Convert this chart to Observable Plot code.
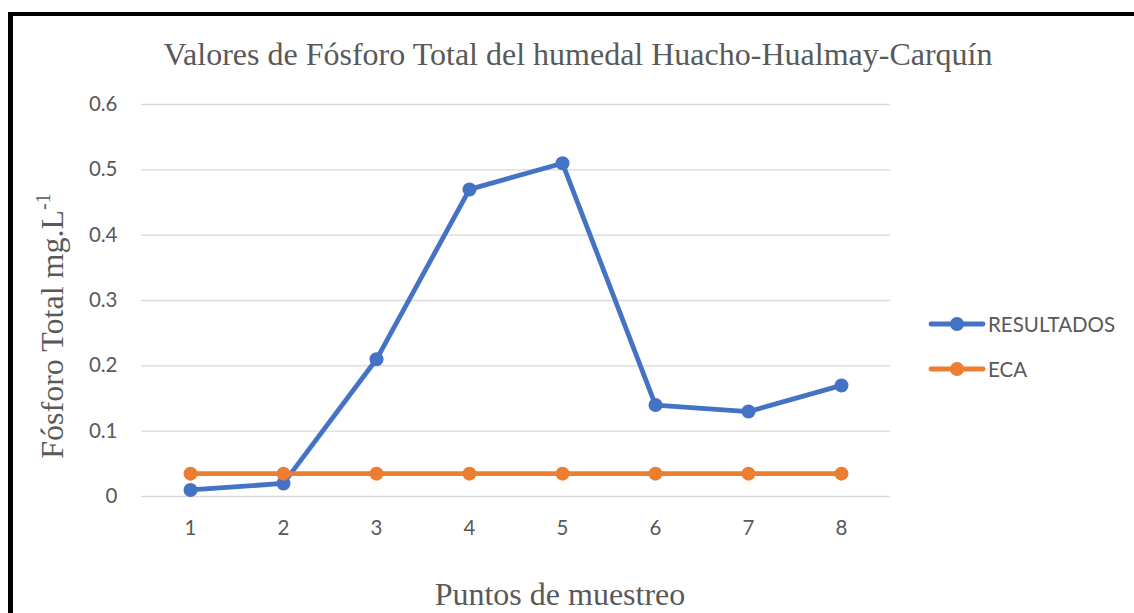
<!DOCTYPE html>
<html>
<head>
<meta charset="utf-8">
<script src="https://cdn.jsdelivr.net/npm/d3@7"></script>
<script src="https://cdn.jsdelivr.net/npm/@observablehq/plot@0.6"></script>
<style>
  html, body { margin: 0; padding: 0; background: #fff; overflow: hidden; }
  #wrap { position: relative; width: 1134px; height: 613px; overflow: hidden; }
  #frame { position: absolute; left: 8px; top: 12px; width: 1300px; height: 800px;
           border-left: 5px solid #000; border-top: 4px solid #000; box-sizing: border-box; }
  .serif { position: absolute; font-family: "Liberation Serif", "Times New Roman", serif; color: #595959; white-space: nowrap; line-height: 1; }
  #title { left: 0; width: 1156px; top: 38px; text-align: center; font-size: 32px; }
  #xlabel { left: 0; width: 1120px; top: 578px; text-align: center; font-size: 32px; }
  #ylabel { left: 52px; top: 326px; font-size: 32px; transform: translate(-50%, -50%) rotate(-90deg); }
  #ylabel sup { font-size: 20px; vertical-align: 13px; line-height: 0; }
  #legend { position: absolute; left: 928px; top: 310px; font-family: Lato, "Open Sans", sans-serif; font-size: 20.5px; color: #595959; }
  .item { display: flex; align-items: center; height: 28px; margin-bottom: 17px; }
  .item svg { margin-right: 2px; }
  #plot { position: absolute; left: 0; top: 0; }
</style>
</head>
<body>
<div id="wrap">
  <div id="plot"></div>
  <div id="frame"></div>
  <div id="title" class="serif">Valores de Fósforo Total del humedal Huacho-Hualmay-Carquín</div>
  <div id="ylabel" class="serif">Fósforo Total mg.L<sup>-1</sup></div>
  <div id="xlabel" class="serif">Puntos de muestreo</div>
  <div id="legend"></div>
</div>
<script>
const puntos = [1, 2, 3, 4, 5, 6, 7, 8];
const resultados = [0.01, 0.02, 0.21, 0.47, 0.51, 0.14, 0.13, 0.17];
const eca = [0.035, 0.035, 0.035, 0.035, 0.035, 0.035, 0.035, 0.035];
const yTicks = [0, 0.1, 0.2, 0.3, 0.4, 0.5, 0.6];
const seriesNames = ["RESULTADOS", "ECA"];
const seriesColors = ["#4472C4", "#ED7D31"];

const data = [];
puntos.forEach((p, i) => {
  data.push({punto: p, valor: resultados[i], serie: seriesNames[0]});
});
puntos.forEach((p, i) => {
  data.push({punto: p, valor: eca[i], serie: seriesNames[1]});
});

const chart = Plot.plot({
  width: 1134,
  height: 613,
  marginLeft: 141,
  marginRight: 244,
  marginTop: 104,
  marginBottom: 117,
  style: { fontFamily: "Lato, 'Open Sans', sans-serif", fontSize: "20.5px", color: "#595959", background: "transparent" },
  x: { type: "point", domain: puntos, padding: 0.5, label: null },
  y: { domain: [0, 0.6], label: null },
  color: { domain: seriesNames, range: seriesColors },
  marks: [
    Plot.ruleY(yTicks, { stroke: "#D9D9D9", strokeWidth: 1.3 }),
    Plot.axisY(yTicks, { tickSize: 0, tickPadding: 24, tickFormat: d => String(d), fill: "#595959", fontSize: 20.5 }),
    Plot.axisX(puntos, { tickSize: 0, tickPadding: 24, fill: "#595959", fontSize: 20.5 }),
    Plot.line(data, { x: "punto", y: "valor", z: "serie", stroke: "serie", strokeWidth: 4.8, strokeLinejoin: "round", strokeLinecap: "round" }),
    Plot.dot(data, { x: "punto", y: "valor", fill: "serie", r: 7 })
  ]
});
document.getElementById("plot").appendChild(chart);

const legend = document.getElementById("legend");
seriesNames.forEach((name, i) => {
  const div = document.createElement("div");
  div.className = "item";
  div.innerHTML = `<svg width="58" height="16"><line x1="3" y1="8" x2="55" y2="8" stroke="${seriesColors[i]}" stroke-width="4.8" stroke-linecap="round"/><circle cx="29" cy="8" r="7" fill="${seriesColors[i]}"/></svg><span>${name}</span>`;
  legend.appendChild(div);
});
</script>
</body>
</html>
